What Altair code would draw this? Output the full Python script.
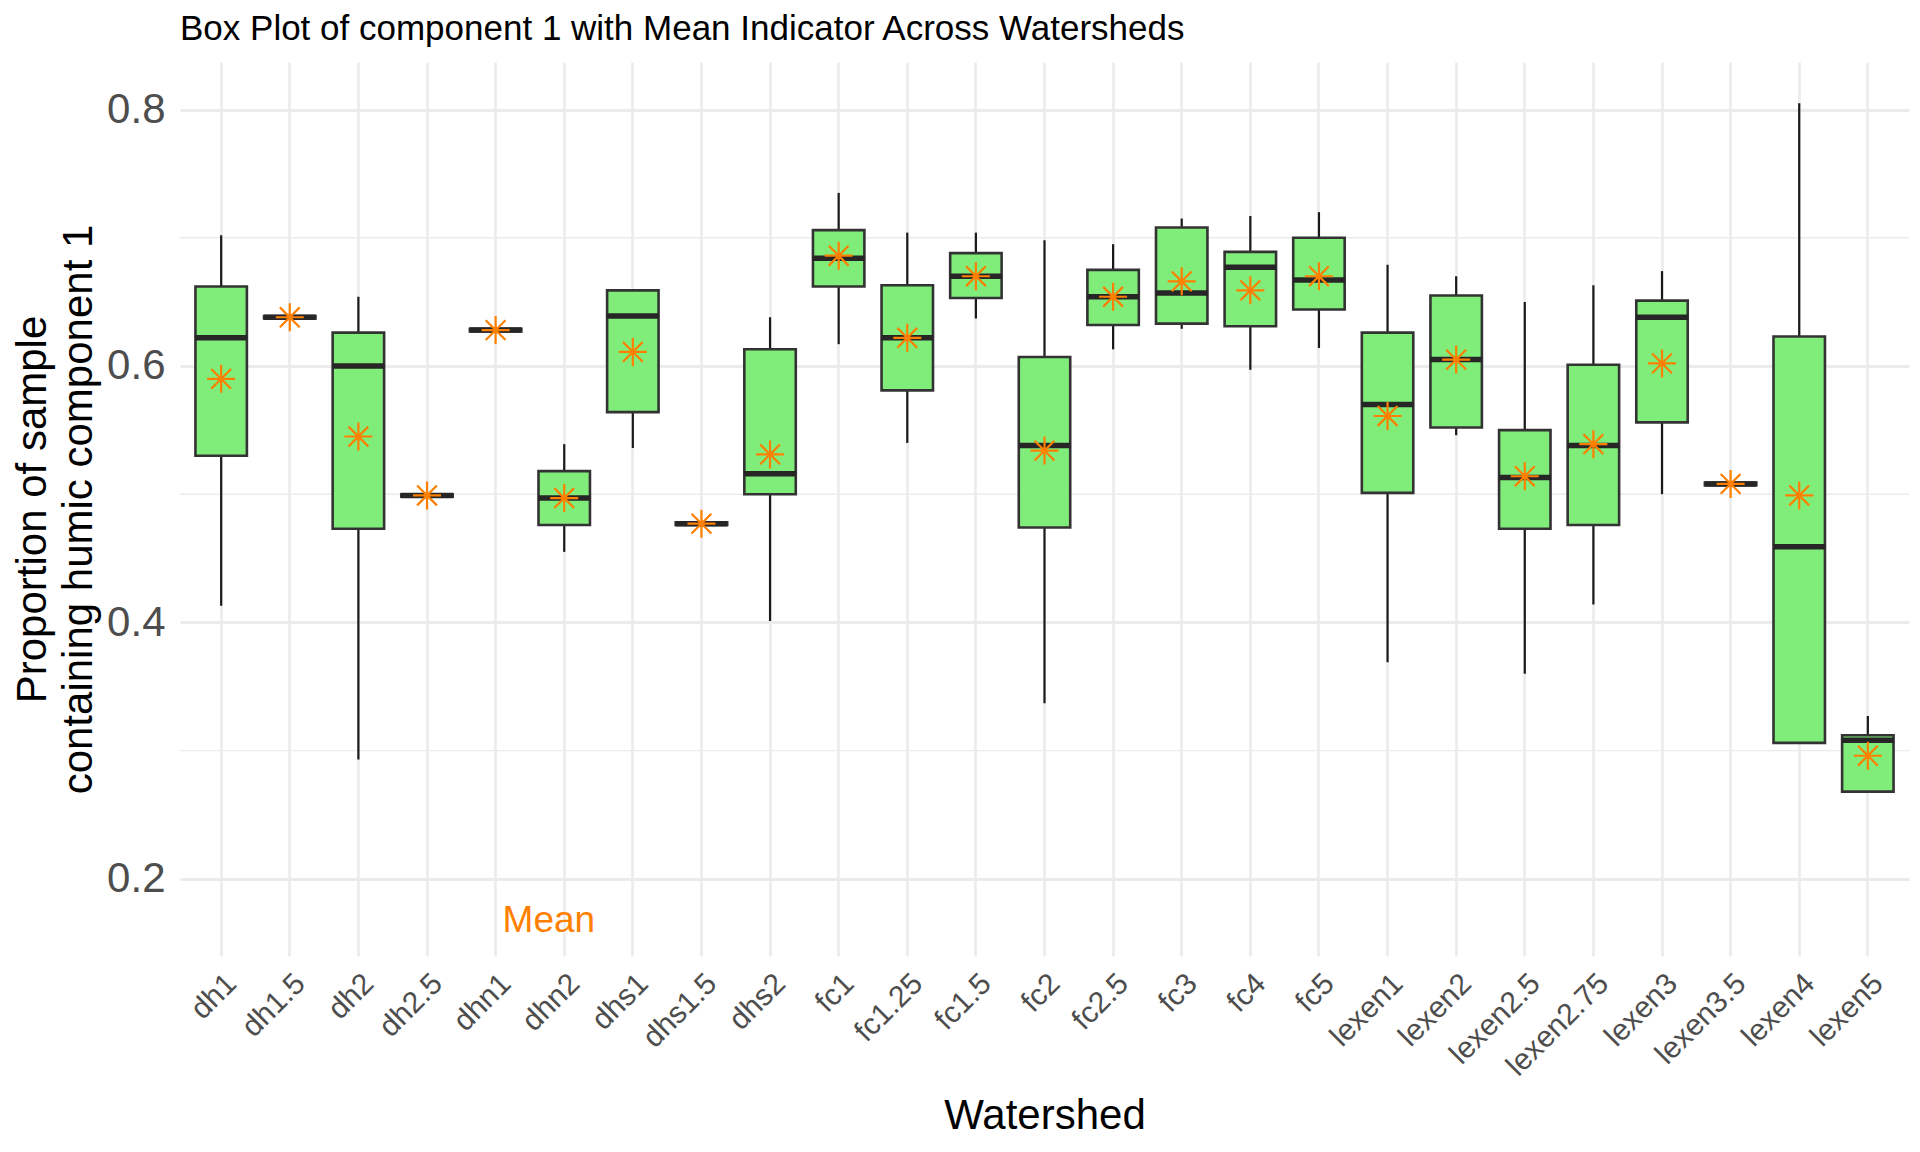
import altair as alt
import pandas as pd

categories = ["dh1", "dh1.5", "dh2", "dh2.5", "dhn1", "dhn2", "dhs1", "dhs1.5", "dhs2",
              "fc1", "fc1.25", "fc1.5", "fc2", "fc2.5", "fc3", "fc4", "fc5",
              "lexen1", "lexen2", "lexen2.5", "lexen2.75", "lexen3", "lexen3.5", "lexen4", "lexen5"]
whisker_low = [0.413, 0.637, 0.293, 0.498, 0.627, 0.455, 0.536, 0.476, 0.401,
               0.617, 0.540, 0.637, 0.337, 0.613, 0.629, 0.597, 0.614,
               0.369, 0.546, 0.360, 0.414, 0.500, 0.507, 0.306, 0.268]
box_low = [0.530, 0.637, 0.473, 0.498, 0.627, 0.476, 0.564, 0.476, 0.500,
           0.662, 0.581, 0.653, 0.474, 0.632, 0.633, 0.631, 0.644,
           0.501, 0.552, 0.473, 0.476, 0.556, 0.507, 0.306, 0.268]
medians = [0.622, 0.638, 0.600, 0.499, 0.628, 0.497, 0.639, 0.477, 0.516,
           0.684, 0.622, 0.670, 0.538, 0.654, 0.657, 0.677, 0.667,
           0.570, 0.605, 0.513, 0.538, 0.638, 0.508, 0.459, 0.308]
box_high = [0.662, 0.639, 0.626, 0.500, 0.629, 0.518, 0.659, 0.478, 0.613,
            0.706, 0.663, 0.688, 0.607, 0.675, 0.708, 0.689, 0.700,
            0.626, 0.655, 0.550, 0.601, 0.651, 0.509, 0.623, 0.312]
whisker_high = [0.702, 0.639, 0.654, 0.500, 0.629, 0.539, 0.659, 0.478, 0.638,
                0.735, 0.704, 0.704, 0.698, 0.695, 0.715, 0.717, 0.720,
                0.679, 0.670, 0.650, 0.663, 0.674, 0.509, 0.805, 0.327]
means = [0.590, 0.638, 0.545, 0.499, 0.628, 0.497, 0.611, 0.477, 0.531,
         0.686, 0.622, 0.670, 0.534, 0.654, 0.666, 0.659, 0.670,
         0.561, 0.605, 0.514, 0.539, 0.602, 0.508, 0.499, 0.296]

y_major = [0.2, 0.4, 0.6, 0.8]
y_minor = [0.3, 0.5, 0.7]
mean_label = "Mean"
mean_label_x = "dhn1"
mean_label_y = 0.1588

df = pd.DataFrame({
    "watershed": categories,
    "wlo": whisker_low,
    "q1": box_low,
    "med": medians,
    "q3": box_high,
    "whi": whisker_high,
    "mean": means,
})

FONT = "Liberation Sans"
GRID = "#EBEBEB"

x_scale = alt.Scale(domain=categories, paddingInner=0, paddingOuter=0.1)
y_scale = alt.Scale(domain=[0.1398, 0.8371], nice=False, zero=False)

x_axis = alt.Axis(
    title="Watershed", labelAngle=315, labelAlign="right", labelBaseline="top",
    labelFontSize=30, labelColor="#4D4D4D", labelPadding=12, labelFont=FONT,
    titleFontSize=42, titleFontWeight="normal", titleColor="black", titleFont=FONT,
    titlePadding=14, grid=True, gridColor=GRID, gridWidth=2.6, ticks=False, domain=False,
    bandPosition=0.5,
)
y_axis = alt.Axis(
    title=["Proportion of sample", "containing humic component 1"], values=y_major, format=".1f",
    labelFontSize=42, labelColor="#4D4D4D", labelPadding=15, labelFont=FONT,
    titleFontSize=42, titleFontWeight="normal", titleColor="black", titleFont=FONT,
    titleLineHeight=46, titlePadding=6,
    grid=True, gridColor=GRID, gridWidth=2.8, ticks=False, domain=False,
)


def X():
    return alt.X("watershed:N", sort=categories, scale=x_scale, axis=x_axis)


def Y(field):
    return alt.Y(field + ":Q", scale=y_scale, axis=y_axis)


base = alt.Chart(df)

minor = alt.Chart(pd.DataFrame({"v": y_minor})).mark_rule(color=GRID, strokeWidth=1.4).encode(
    y=Y("v")
)

whisk = base.mark_rule(color="#1A1A1A", strokeWidth=2.2).encode(
    x=X(), y=Y("wlo"), y2="whi"
)

box = base.mark_bar(
    fill="#80EC7A", stroke="#333333", strokeWidth=2.6, opacity=1,
    width=alt.RelativeBandSize(0.75)
).encode(x=X(), y=Y("q1"), y2="q3")

med = base.mark_tick(color="#262626", thickness=5.5, size=52, opacity=1).encode(
    x=X(), y=Y("med")
)

star_path = ("M0,-1L0,1M-1,0L1,0M-0.707,-0.707L0.707,0.707M-0.707,0.707L0.707,-0.707")
mean_pts = base.mark_point(
    shape=star_path, filled=False, stroke="#FF7F00", strokeWidth=2.2, size=784, opacity=1
).encode(x=X(), y=Y("mean"))

label = alt.Chart(pd.DataFrame({"watershed": [mean_label_x], "v": [mean_label_y], "t": [mean_label]})).mark_text(
    align="left", baseline="alphabetic", dx=7, fontSize=37, font=FONT, color="#FF7F00"
).encode(x=X(), y=Y("v"), text="t:N")

chart = alt.layer(minor, whisk, box, med, mean_pts, label).properties(
    width=1729, height=894,
    background="white",
    title=alt.TitleParams(
        "Box Plot of component 1 with Mean Indicator Across Watersheds",
        anchor="start", frame="group", fontSize=35, font=FONT, fontWeight="normal",
        color="black", offset=15,
    ),
    autosize=alt.AutoSizeParams(type="none"),
    padding={"left": 172, "top": 54, "right": 3, "bottom": 190},
).configure_view(stroke=None)

chart.save("out.html", embed_options={"renderer": "svg", "actions": False})
